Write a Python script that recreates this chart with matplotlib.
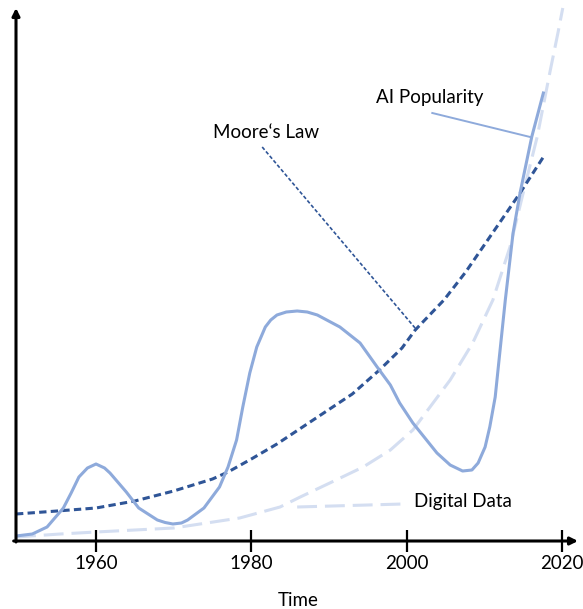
import matplotlib
matplotlib.use("Agg")
import matplotlib.pyplot as plt

plt.rcParams['font.family'] = ['Lato', 'DejaVu Sans']

# values (year, relative height)
ai_years = [1949.7, 1951.8, 1953.7, 1955.8, 1956.8, 1957.8, 1958.9, 1960.0, 1961.1,
            1961.8, 1963.9, 1965.5, 1967.9, 1968.9, 1969.9, 1971.0, 1971.8, 1973.9,
            1975.9, 1977.0, 1978.1, 1978.9, 1979.8, 1980.7, 1981.8, 1982.5, 1983.3,
            1984.5, 1985.9, 1987.2, 1988.5, 1991.4, 1994.0, 1996.2, 1997.9, 1999.1,
            2000.8, 2003.9, 2005.6, 2007.2, 2008.4, 2009.2, 2010.1, 2010.7, 2011.4,
            2011.8, 2012.7, 2013.7, 2014.6, 2016.1, 2017.6]
ai_pop = [5, 7, 14, 33, 48, 64, 73, 77, 73,
          68, 49, 33, 21, 18.5, 17, 18, 21, 33,
          54, 74, 101, 134, 168, 194, 214, 221, 226,
          229, 230, 229, 226, 214, 198, 174, 156, 138,
          118, 88, 76, 70, 71, 78, 94, 114, 144,
          174, 241, 308, 348, 404, 448]

moore_years = [1949.7, 1955, 1960, 1965, 1970, 1975, 1977, 1980, 1983.3, 1986.6,
               1993, 1996.5, 1999.4, 2001.1, 2004.8, 2007.6, 2014.6, 2017.6]
moore = [27, 30, 33, 40, 50, 62, 69, 82, 97, 114,
         147, 171, 193, 211, 241, 269, 348, 384]

data_years = [1949.7, 1955.4, 1960.0, 1970.0, 1978.5, 1983.7, 1986.3, 1990.1, 1994.4,
              1997.9, 2000.8, 2005.6, 2008.5, 2011.1, 2013.3, 2015.0, 2016.8, 2018.5,
              2019.5, 2020.1]
digital = [4, 7, 9, 13, 23, 34, 44, 58, 74,
           91, 111, 161, 198, 241, 294, 348, 404, 471,
           509, 533]

tick_years = [1960, 1980, 2000, 2020]

c_ai = '#8eaadb'
c_moore = '#2f5597'
c_data = '#d4def1'

fig = plt.figure(figsize=(5.83, 6.09), dpi=100)
ax = fig.add_axes([16 / 583, 68 / 609, 562 / 583, 541 / 609])
ax.set_xlim(1949.7, 2022.06)
ax.set_ylim(0, 541)

ax.plot(data_years, digital, color=c_data, lw=2.2, dashes=(6.5, 2.6), solid_capstyle='butt')
ax.plot(moore_years, moore, color=c_moore, lw=2.2, dashes=(2.4, 1.4))
ax.plot(ai_years, ai_pop, color=c_ai, lw=2.2, solid_joinstyle='round')

# leader lines + labels
ax.plot([2003.3, 2015.9], [428, 404], color=c_ai, lw=1.4)
ax.plot([1981.4, 2001.3], [394, 211], color=c_moore, lw=1.2, dashes=(2.2, 1.3))
ax.plot([1985.9, 1999.5], [34, 37], color=c_data, lw=2.2, dashes=(6.5, 2.6))

ax.text(2003.0, 444, 'AI Popularity', fontsize=13.5, ha='center', va='center')
ax.text(1981.9, 409, 'Moore\u2018s Law', fontsize=13.5, ha='center', va='center')
ax.text(2007.25, 39, 'Digital Data', fontsize=13.5, ha='center', va='center')

# axes drawn as arrows
for s in ax.spines.values():
    s.set_visible(False)
ax.annotate('', xy=(2022.06, 0), xytext=(1949.4, 0),
            arrowprops=dict(arrowstyle='-|>', lw=2.2, color='black', mutation_scale=11,
                            shrinkA=0, shrinkB=0), annotation_clip=False)
ax.annotate('', xy=(1949.7, 533), xytext=(1949.7, -1),
            arrowprops=dict(arrowstyle='-|>', lw=2.2, color='black', mutation_scale=11,
                            shrinkA=0, shrinkB=0), annotation_clip=False)

ax.set_xticks(tick_years)
ax.set_xticklabels([str(y) for y in tick_years])
ax.set_yticks([])
ax.tick_params(axis='x', direction='inout', length=16, width=1.6, color='black',
               labelsize=13.5, pad=2)

fig.text(298 / 583, 1 - 600 / 609, 'Time', fontsize=13.5, ha='center', va='center')

fig.savefig('out.png', dpi=100)
